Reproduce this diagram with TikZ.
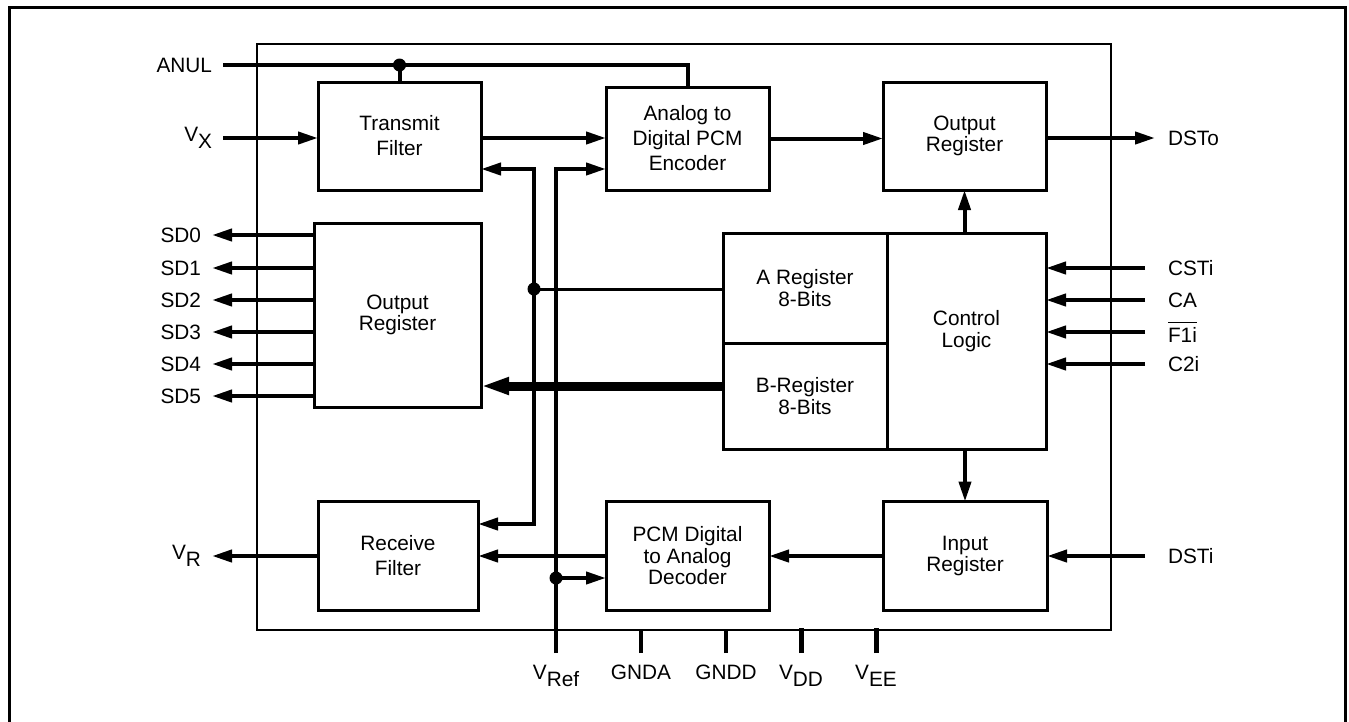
\documentclass[tikz,border=0pt]{standalone}
\usepackage{fontspec}
\setmainfont{Liberation Sans}
\usetikzlibrary{arrows.meta,positioning}

\newcommand\sbs[1]{\raisebox{-7.5pt}{#1}}
\newcommand\ovl[1]{\setbox0\hbox{#1}\rlap{\rule[19pt]{\wd0}{1.6pt}}\box0}

\tikzset{
  blk/.style={draw, line width=3pt, inner sep=0pt, outer sep=0pt, align=center, minimum width=163pt},
  sig/.style={line width=4pt},
  bus/.style={line width=9pt, -{Triangle[length=28pt,width=16pt]}},
  pinl/.style={anchor=east, inner sep=0pt, outer xsep=#1},
  pinl/.default=11pt,
  pinr/.style={anchor=west, inner sep=0pt, outer xsep=#1},
  pinr/.default=23pt,
  pinb/.style={anchor=north, inner sep=0pt, outer ysep=12pt},
}

\begin{document}
\begin{tikzpicture}[x=1pt, y=-1pt, >={Triangle[length=20pt,width=12pt]},
    every node/.style={font=\fontsize{20.8}{21.5}\selectfont}]
  \useasboundingbox (0,0) rectangle (1349,721);
  % frames
  \draw[line width=3pt] (9,730) |- (1345,7) -- (1345,730);
  \node[draw, line width=2pt, inner sep=0pt, minimum width=854pt, minimum height=586pt] (chip) at (684,337) {};

  % blocks
  \node[blk, minimum height=108pt] (tf) at (399.5,136) {Transmit\\[3.5pt]Filter};
  \node[blk, minimum height=103pt] (adc) at (687.5,138.5) {Analog to\\[3.5pt]Digital PCM\\[3.5pt]Encoder};
  \node[blk, minimum height=108pt] (outreg) at (964.5,136) {Output\\Register};
  \node[blk, minimum width=167pt, minimum height=184pt] (sdreg) at (397.5,315) {Output\\Register};
  \node[blk, minimum width=164pt, minimum height=110pt] (areg) at (805,288) {A Register\\8-Bits};
  \node[blk, minimum width=164pt, minimum height=106pt, below=0pt of areg] (breg) {B-Register\\8-Bits};
  \node[blk, minimum width=159pt, minimum height=216pt,
    label={[align=center, yshift=10pt]center:Control\\Logic}] (ctrl) at (966.5,341) {};
  \node[blk, minimum width=160pt, minimum height=109pt] (rf) at (398,556) {Receive\\[3.5pt]Filter};
  \node[blk, minimum height=109pt] (dac) at (687.5,556) {PCM Digital\\to Analog\\Decoder};
  \node[blk, minimum width=164pt, minimum height=109pt] (inreg) at (965,556) {Input\\Register};

  % pins
  \node[pinl] (anul) at (223,65) {ANUL};
  \node[pinl] (vx) at (223,138) {V\sbs{X}};
  \node[pinl] (vr) at (212,556) {V\sbs{R}};
  \node[pinr=13pt] (dsto) at (1155,138) {DSTo};
  \node[pinr] (dsti) at (1145,556) {DSTi};
  \node[pinb] (vref) at (556,653) {V\sbs{Ref}};
  \node[pinb] (gnda) at (641,653) {GNDA};
  \node[pinb] (gndd) at (726,653) {GNDD};
  \node[pinb] (vdd) at (801,653) {V\sbs{DD}};
  \node[pinb] (vee) at (876,653) {V\sbs{EE}};

  \foreach \i/\y in {0/235,1/268,2/300,3/332,4/364,5/396} {
    \node[pinl] (sd\i) at (212,\y) {SD\i};
    \draw[sig,->] (sd\i.east -| sdreg.west) -- (sd\i.east);
  }
  \foreach \n/\t/\y in {csti/CSTi/268, ca/CA/300, fi/{\ovl{F1i}}/332, cti/C2i/364} {
    \node[pinr] (\n) at (1145,\y) {\t};
    \draw[sig,->] (\n.west) -- (\n.west -| ctrl.east);
  }

  % signal paths
  \draw[sig] (anul.east) -- (anul.east -| adc.north) -- (adc.north);
  \fill (anul.east -| tf.north) circle (6.5pt);
  \draw[sig] (anul.east -| tf.north) -- (tf.north);
  \draw[sig,->] (vx.east) -- (vx.east -| tf.west);
  \draw[sig,->] (vx.east -| tf.east) -- (vx.east -| adc.west);
  \draw[sig,->] (adc.east) -- (adc.east -| outreg.west);
  \draw[sig,->] (outreg.east |- dsto.west) -- (dsto.west);
  \draw[sig,->] (ctrl.north -| outreg.south) -- (outreg.south);
  \draw[sig,->] (ctrl.south -| inreg.north) -- (inreg.north);
  \draw[sig,->] (dsti.west) -- (dsti.west -| inreg.east);
  \draw[sig,->] (inreg.west) -- (inreg.west -| dac.east);
  \draw[sig,->] (dac.west) -- (dac.west -| rf.east);
  \draw[sig,->] (rf.west) -- (vr.east);
  \draw[bus] ([yshift=10pt]breg.west) -- ([yshift=10pt]breg.west -| sdreg.east);

  % internal buses
  \coordinate (b1n) at (534,169);
  \coordinate (b1s) at (534,524);
  \coordinate (b1dot) at (534,289);
  \coordinate (b2n) at (556,169);
  \coordinate (b2dot) at (556,578);
  \draw[sig,<->] (b1n -| tf.east) -- (b1n) -- (b1s) -- (b1s -| rf.east);
  \draw[sig,->] (vref.north) -- (b2n) -- (b2n -| adc.west);
  \draw[line width=3pt] (b1dot) -- (b1dot -| areg.west);
  \fill (b1dot) circle (6.5pt);
  \draw[sig,->] (b2dot) -- (b2dot -| dac.west);
  \fill (b2dot) circle (6.5pt);

  % supply pins
  \draw[sig] (gnda.north) -- (gnda.north |- chip.south);
  \draw[sig] (gndd.north) -- (gndd.north |- chip.south);
  \draw[line width=5pt] (vdd.north) -- ([yshift=3pt]vdd.north |- chip.south);
  \draw[line width=5pt] (vee.north) -- ([yshift=3pt]vee.north |- chip.south);
\end{tikzpicture}
\end{document}
